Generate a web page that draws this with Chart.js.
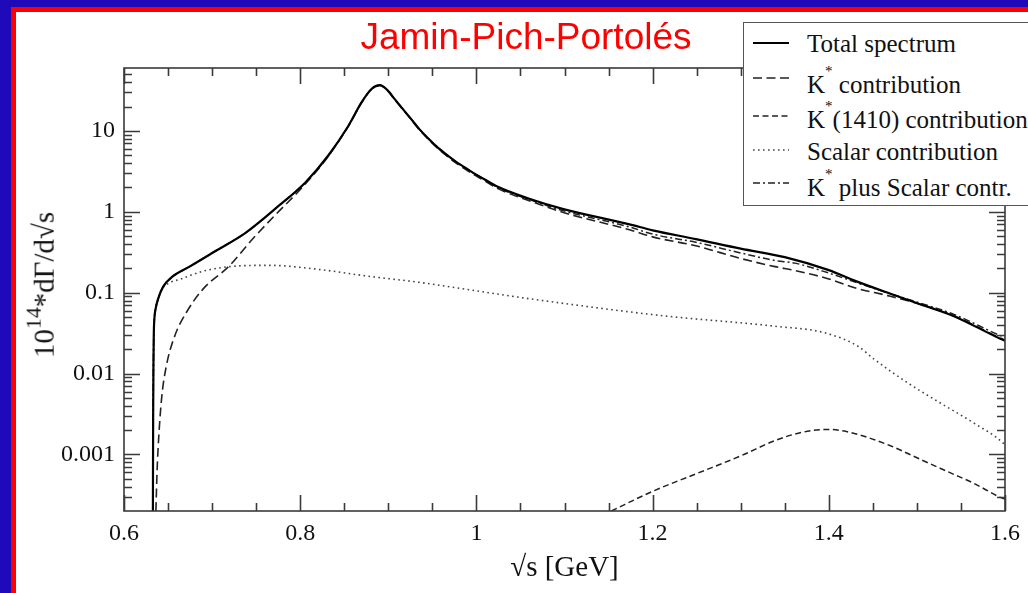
<!DOCTYPE html>
<html lang="en">
<head>
<meta charset="UTF-8">
<title>Jamin-Pich-Portolés</title>
<script src="https://cdn.jsdelivr.net/npm/chart.js"></script>
<style>
  body { margin: 0; width: 1028px; height: 593px; overflow: hidden; position: relative; background: #fff; }
  .frame { position: absolute; left: 0; top: 0; width: 1028px; height: 593px; box-sizing: border-box;
           border-left: 11px solid #1e0ab8; border-top: 7px solid #1e0ab8; }
  .frame-inner { position: absolute; left: 0; top: 0; right: 0; bottom: 0;
                 border-left: 5px solid #ff0000; border-top: 5px solid #ff0000; }
  #wrap { position: absolute; left: 0; top: 0; width: 1028px; height: 593px; }
  .title { position: absolute; left: 276px; width: 500px; top: 16px; line-height: 37px; text-align: center;
           color: #ff0000; font: 37px "Liberation Sans", Arial, sans-serif; }
  .ytitle { position: absolute; left: 42px; top: 285px; transform: translate(-50%, -50%) rotate(-90deg);
            white-space: nowrap; font: 29px "Liberation Serif", serif; color: #111; }
  .ytitle sup { font-size: 0.75em; position: relative; top: -0.1em; }
  .legend { position: absolute; left: 743px; top: 22px; width: 320px; height: 184px; box-sizing: border-box;
            border: 1.5px solid #555; background: #fff; }
  .row { position: absolute; left: 0; height: 26px; line-height: 26px; white-space: nowrap;
         font: 25px "Liberation Serif", serif; color: #111; }
  .row svg { position: absolute; left: 9px; }
  .row span { position: absolute; left: 63px; }
  .row sup { font-size: 0.6em; position: relative; top: -0.55em; vertical-align: top; }
</style>
</head>
<body>
<div class="frame"><div class="frame-inner"></div></div>
<div id="wrap"><canvas id="spectrum" width="1028" height="593"></canvas></div>
<div class="title">Jamin-Pich-Portolés</div>
<div class="ytitle">10<sup>14</sup>*dΓ/d√s</div>
<div class="legend">
  <div class="row" style="top:7px"><svg width="36" height="26"><line x1="0" y1="13" x2="36" y2="13" stroke="#000" stroke-width="2"/></svg><span>Total spectrum</span></div>
  <div class="row" style="top:48px"><svg width="36" height="26" style="top:-6px"><line x1="0" y1="13" x2="36" y2="13" stroke="#222" stroke-width="1.6" stroke-dasharray="9,4.5"/></svg><span>K<sup>*</sup> contribution</span></div>
  <div class="row" style="top:83px"><svg width="36" height="26" style="top:-3px"><line x1="0" y1="13" x2="36" y2="13" stroke="#222" stroke-width="1.5" stroke-dasharray="6,3.5"/></svg><span>K<sup>*</sup>(1410) contribution</span></div>
  <div class="row" style="top:115px"><svg width="36" height="26" style="top:-1px"><line x1="0" y1="13" x2="36" y2="13" stroke="#444" stroke-width="1.6" stroke-dasharray="1.6,3.4"/></svg><span>Scalar contribution</span></div>
  <div class="row" style="top:151px"><svg width="36" height="26" style="top:-4px"><line x1="0" y1="13" x2="36" y2="13" stroke="#222" stroke-width="1.5" stroke-dasharray="7,3,2,3"/></svg><span>K<sup>*</sup> plus Scalar contr.</span></div>
</div>

<script>
// values (x = sqrt(s) in GeV, y = 10^14 dGamma/dsqrt(s))
const sqrtS_total = [0.6328, 0.6331, 0.6334, 0.6338, 0.6345, 0.636, 0.6386, 0.6443, 0.6556, 0.6744, 0.7044, 0.738, 0.7758, 0.8059, 0.8321, 0.8546, 0.8696, 0.8809, 0.8904, 0.899, 0.9073, 0.926, 0.935, 0.9448, 0.955, 0.965, 0.975, 0.9823, 0.995, 1.0085, 1.0237, 1.06, 1.0988, 1.1738, 1.2, 1.249, 1.3, 1.35, 1.4, 1.43, 1.47, 1.5043, 1.542, 1.5946, 1.6];
const total       = [0.0002, 0.003, 0.012, 0.03, 0.048, 0.064, 0.083, 0.118, 0.16, 0.21, 0.33, 0.55, 1.19, 2.31, 5.0, 11.5, 22.5, 33, 36.8, 32, 24.7, 14, 10.6, 8.2, 6.4, 5.2, 4.3, 3.8, 3.1, 2.55, 2.05, 1.45, 1.08, 0.70, 0.59, 0.46, 0.35, 0.275, 0.19, 0.14, 0.097, 0.0716, 0.0513, 0.027, 0.0255];

const sqrtS_kstar = [0.6362, 0.6375, 0.6386, 0.6425, 0.648, 0.6575, 0.6706, 0.6894, 0.7194, 0.7457, 0.772, 0.7983, 0.8208, 0.8321, 0.8546, 0.8696, 0.8809, 0.8904, 0.899, 0.9073, 0.926, 0.935, 0.9448, 0.955, 0.965, 0.975, 0.9823, 0.995, 1.0085, 1.0237, 1.06, 1.0988, 1.1738, 1.2, 1.249, 1.3, 1.339, 1.3617, 1.4, 1.4293, 1.4669, 1.5043, 1.542, 1.5946, 1.6];
const kstar       = [0.0002, 0.0006, 0.00113, 0.0047, 0.0123, 0.029, 0.0565, 0.11, 0.214, 0.458, 0.92, 1.8, 3.4, 4.9, 11.4, 22.3, 32.7, 36.5, 31.7, 24.4, 13.8, 10.4, 8.0, 6.25, 5.05, 4.15, 3.65, 2.98, 2.44, 1.95, 1.37, 0.98, 0.60, 0.49, 0.38, 0.265, 0.21, 0.188, 0.148, 0.115, 0.092, 0.0716, 0.052, 0.0275, 0.026];

const sqrtS_k1410 = [1.1532, 1.2, 1.25, 1.3, 1.34, 1.37, 1.399, 1.42, 1.44, 1.47, 1.508, 1.54, 1.5645, 1.5946, 1.6];
const k1410       = [0.0002, 0.00035, 0.00058, 0.00096, 0.0015, 0.00188, 0.00204, 0.00192, 0.00168, 0.00128, 0.00083, 0.00058, 0.00044, 0.000295, 0.00028];

const sqrtS_scalar = [0.6328, 0.6331, 0.6334, 0.6338, 0.6345, 0.636, 0.6386, 0.6443, 0.652, 0.663, 0.69, 0.72, 0.7645, 0.821, 0.877, 0.9335, 1.061, 1.211, 1.339, 1.3955, 1.433, 1.452, 1.4894, 1.527, 1.5645, 1.598, 1.6];
const scalar       = [0.0002, 0.003, 0.012, 0.03, 0.048, 0.064, 0.083, 0.115, 0.133, 0.146, 0.185, 0.21, 0.218, 0.194, 0.16, 0.135, 0.084, 0.052, 0.0385, 0.0319, 0.0218, 0.0149, 0.0077, 0.0043, 0.00245, 0.00138, 0.0013];

const sqrtS_kstarScalar = [0.6328, 0.6331, 0.6334, 0.6338, 0.6345, 0.636, 0.6386, 0.6443, 0.6556, 0.6744, 0.7044, 0.738, 0.7758, 0.8059, 0.8321, 0.8546, 0.8696, 0.8809, 0.8904, 0.899, 0.9073, 0.926, 0.935, 0.9448, 0.955, 0.965, 0.975, 0.9823, 0.995, 1.0085, 1.0237, 1.06, 1.0988, 1.1738, 1.2, 1.249, 1.3, 1.339, 1.3617, 1.4, 1.43, 1.47, 1.5043, 1.542, 1.5946, 1.6];
const kstarScalar       = [0.0002, 0.003, 0.012, 0.03, 0.048, 0.064, 0.083, 0.118, 0.16, 0.21, 0.33, 0.55, 1.19, 2.31, 5.0, 11.5, 22.5, 33, 36.8, 32, 24.7, 14, 10.6, 8.2, 6.4, 5.2, 4.3, 3.8, 3.1, 2.53, 2.0, 1.42, 1.03, 0.65, 0.53, 0.42, 0.31, 0.25, 0.232, 0.175, 0.135, 0.097, 0.074, 0.054, 0.0295, 0.028];

const xLabels = [0.6, 0.8, 1.0, 1.2, 1.4, 1.6];
const yLabels = [0.001, 0.01, 0.1, 1, 10];

function pairs(xs, ys) {
    return xs.map((x, i) => ({ x: x, y: ys[i] }));
}

function curve(label, xs, ys, color, width, dash) {
    return {
        label: label,
        data: pairs(xs, ys),
        borderColor: color,
        borderWidth: width,
        borderDash: dash,
        pointRadius: 0,
        fill: false,
        cubicInterpolationMode: 'monotone'
    };
}

// box round the plot with inward ticks on all four sides
const boxTicks = {
    id: 'boxTicks',
    afterDraw(chart) {
        const { ctx, chartArea: a, scales: { x, y } } = chart;
        ctx.save();
        ctx.strokeStyle = '#3a3a3a';
        ctx.lineWidth = 1.6;
        ctx.strokeRect(a.left, a.top, a.right - a.left, a.bottom - a.top);
        ctx.beginPath();
        for (let i = 0; i <= 20; i++) {
            const v = 0.6 + i * 0.05;
            const px = Math.round(x.getPixelForValue(v)) + 0.5;
            const len = i % 4 === 0 ? 16 : 8;
            ctx.moveTo(px, a.bottom); ctx.lineTo(px, a.bottom - len);
            ctx.moveTo(px, a.top); ctx.lineTo(px, a.top + len);
        }
        for (let e = -4; e <= 1; e++) {
            for (let m = 1; m <= 9; m++) {
                const v = m * Math.pow(10, e);
                if (v <= y.min * 1.001 || v >= y.max * 0.999) continue;
                const py = Math.round(y.getPixelForValue(v)) + 0.5;
                const len = m === 1 ? 16 : 8;
                ctx.moveTo(a.left, py); ctx.lineTo(a.left + len, py);
                ctx.moveTo(a.right, py); ctx.lineTo(a.right - len, py);
            }
        }
        ctx.stroke();
        ctx.restore();
    }
};

const tickFont = { family: '"Liberation Serif", serif', size: 24 };

new Chart(document.getElementById('spectrum'), {
    type: 'line',
    data: {
        datasets: [
            curve('Total spectrum', sqrtS_total, total, '#000', 2.2, []),
            curve('K* contribution', sqrtS_kstar, kstar, '#222', 1.6, [9, 4.5]),
            curve('K*(1410) contribution', sqrtS_k1410, k1410, '#222', 1.5, [6, 3.5]),
            curve('Scalar contribution', sqrtS_scalar, scalar, '#444', 1.6, [1.6, 3.4]),
            curve('K* plus Scalar contr.', sqrtS_kstarScalar, kstarScalar, '#222', 1.5, [7, 3, 2, 3])
        ]
    },
    options: {
        responsive: false,
        animation: false,
        layout: { padding: { top: 68, right: 19, left: 0, bottom: 0 } },
        plugins: { legend: { display: false }, tooltip: { enabled: false } },
        scales: {
            x: {
                type: 'linear',
                min: 0.6,
                max: 1.6,
                afterBuildTicks: s => { s.ticks = xLabels.map(v => ({ value: v })); },
                afterFit: s => { s.height = 82; },
                grid: { display: false, drawTicks: false },
                border: { display: false },
                ticks: {
                    padding: 8,
                    color: '#111',
                    font: tickFont,
                    maxRotation: 0,
                    callback: v => String(+v.toFixed(1))
                },
                title: {
                    display: true,
                    text: '√s [GeV]',
                    color: '#111',
                    font: { family: '"Liberation Serif", serif', size: 29 },
                    padding: { top: 0, bottom: 7 }
                }
            },
            y: {
                type: 'logarithmic',
                min: 0.0002,
                max: 60,
                afterBuildTicks: s => { s.ticks = yLabels.map(v => ({ value: v })); },
                afterFit: s => { s.width = 124; },
                grid: { display: false, drawTicks: false },
                border: { display: false },
                ticks: {
                    padding: 9,
                    color: '#111',
                    font: tickFont,
                    callback: v => String(v)
                }
            }
        }
    },
    plugins: [boxTicks]
});
</script>
</body>
</html>
